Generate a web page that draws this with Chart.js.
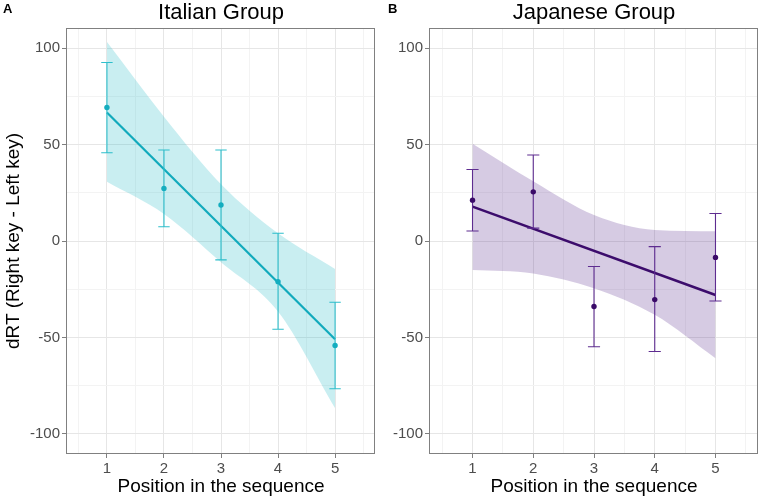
<!DOCTYPE html>
<html><head><meta charset="utf-8">
<script src="https://cdn.jsdelivr.net/npm/chart.js@4.4.1/dist/chart.umd.min.js"></script>
<style>
html,body{margin:0;padding:0;background:#fff;}
#wrap{position:relative;width:762px;height:498px;overflow:hidden;background:#fff;}
canvas{position:absolute;top:0;display:block;}
#c1{left:0;} #c2{left:380px;}
</style></head><body>
<div id="wrap"><canvas id="c1" width="380" height="498"></canvas><canvas id="c2" width="382" height="498"></canvas></div>
<script>
// ---- data ----
const positions = [1, 2, 3, 4, 5];
const xTickLabels = [1, 2, 3, 4, 5];
const xGrid = [0.5, 1, 1.5, 2, 2.5, 3, 3.5, 4, 4.5, 5, 5.5];
const yGrid = [-100, -75, -50, -25, 0, 25, 50, 75, 100];
const yTickLabels = [-100, -50, 0, 50, 100];
const fitX = [1, 5];

const italianMean = [69.3, 27.3, 18.7, -21.1, -54.2];
const italianLow = [45.8, 7.4, -9.8, -45.8, -76.7];
const italianHigh = [92.6, 47.2, 47.2, 4.0, -31.8];
const italianFit = [66.7, -51.0];
const italianBandUpper = [103.3, 64.5, 29.5, 4.0, -14.5];
const italianBandLower = [30.7, 14.0, -11.0, -36.6, -86.7];

const japaneseMean = [21.2, 25.5, -34.0, -30.4, -8.5];
const japaneseLow = [5.2, 6.7, -54.9, -57.3, -31.1];
const japaneseHigh = [37.1, 44.6, -13.2, -2.9, 14.3];
const japaneseFit = [17.8, -28.0];
const japaneseBandUpper = [50.5, 31.0, 13.5, 5.7, 5.0];
const japaneseBandLower = [-15.0, -16.8, -24.5, -38.3, -60.8];

const FONT = '"Liberation Sans", Arial, Helvetica, sans-serif';
const CAP = 0.1;

function pts(xs, ys) { return xs.map((x, i) => ({x: x, y: ys[i]})); }
function errorBarData(xs, lo, hi) {
  const d = [];
  xs.forEach((x, i) => {
    d.push({x: x, y: lo[i]}, {x: x, y: hi[i]}, {x: x, y: null});
    d.push({x: x - CAP, y: hi[i]}, {x: x + CAP, y: hi[i]}, {x: x, y: null});
    d.push({x: x - CAP, y: lo[i]}, {x: x + CAP, y: lo[i]}, {x: x, y: null});
  });
  return d;
}

const decor = {
  id: 'decor',
  afterDatasetsDraw(chart, args, o) {
    const {ctx, chartArea: a} = chart;
    ctx.save();
    ctx.strokeStyle = '#808080';
    ctx.lineWidth = 1;
    const l = Math.round(a.left) - 0.5, t = Math.round(a.top) - 0.5;
    const r = Math.round(a.right) - 0.5, b = Math.round(a.bottom) + 0.5;
    ctx.strokeRect(l, t, r - l, b - t);
    ctx.restore();
  },
  afterDraw(chart, args, o) {
    const {ctx, chartArea: a} = chart;
    ctx.save();
    ctx.fillStyle = '#000';
    ctx.font = '22px ' + FONT;
    ctx.textAlign = 'center';
    ctx.textBaseline = 'alphabetic';
    ctx.fillText(o.title, (a.left + a.right) / 2, 18.5);
    ctx.font = 'bold 13px ' + FONT;
    ctx.textAlign = 'left';
    ctx.fillText(o.letter, o.letterX, 13);
    ctx.restore();
  }
};

function makePanel(id, o) {
  const gridColor = c => (c.tick && Math.abs(c.tick.value) % o.majorStep === 0) ? '#E6E6E6' : '#F3F3F3';
  new Chart(document.getElementById(id), {
    type: 'line',
    data: {
      datasets: [
        {data: pts(positions, o.bandUpper), borderWidth: 0, pointRadius: 0, fill: '+1',
         backgroundColor: o.band, cubicInterpolationMode: 'monotone', order: 5},
        {data: pts(positions, o.bandLower), borderWidth: 0, pointRadius: 0, fill: false,
         cubicInterpolationMode: 'monotone', order: 5},
        {data: pts(fitX, o.fit), borderColor: o.line, borderWidth: o.lineWidth, pointRadius: 0, fill: false, order: 3},
        {data: errorBarData(positions, o.low, o.high), borderColor: o.err, borderWidth: 1.1, pointRadius: 0,
         fill: false, spanGaps: false, order: 2},
        {data: pts(positions, o.mean), showLine: false, pointRadius: 2.7, pointBorderWidth: 0,
         pointBackgroundColor: o.pt, order: 1}
      ]
    },
    options: {
      responsive: false, animation: false, devicePixelRatio: 1,
      layout: {padding: {left: 0, right: o.padRight, top: 29, bottom: 0}},
      plugins: {legend: {display: false}, tooltip: {enabled: false}, title: {display: false},
                decor: {title: o.title, letter: o.letter, letterX: o.letterX}},
      scales: {
        x: {
          type: 'linear', min: 0.3, max: 5.7,
          afterBuildTicks: s => { s.ticks = xGrid.map(v => ({value: v})); },
          afterFit: s => { s.height = 45; },
          border: {display: false},
          grid: {color: c => (c.tick && Number.isInteger(c.tick.value)) ? '#E6E6E6' : '#F3F3F3', lineWidth: 1,
                 drawTicks: true, tickLength: 5,
                 tickColor: c => (c.tick && Number.isInteger(c.tick.value)) ? '#7f7f7f' : 'rgba(0,0,0,0)'},
          ticks: {color: '#4D4D4D', font: {family: FONT, size: 15}, padding: 2, maxRotation: 0, autoSkip: false,
                  callback: v => xTickLabels.includes(v) ? String(v) : ''},
          title: {display: true, text: 'Position in the sequence', color: '#000',
                  font: {family: FONT, size: 19}, padding: {top: 0, bottom: 0}}
        },
        y: {
          type: 'linear', min: -110, max: 110,
          afterBuildTicks: s => { s.ticks = yGrid.map(v => ({value: v})); },
          afterFit: s => { s.width = o.yWidth; },
          border: {display: false},
          grid: {color: gridColor, lineWidth: 1, drawTicks: true, tickLength: 5,
                 tickColor: c => (c.tick && yTickLabels.includes(c.tick.value)) ? '#7f7f7f' : 'rgba(0,0,0,0)'},
          ticks: {color: '#4D4D4D', font: {family: FONT, size: 15}, padding: 2, autoSkip: false,
                  callback: v => yTickLabels.includes(v) ? String(v) : ''},
          title: {display: o.yTitle, text: 'dRT (Right key - Left key)', color: '#000',
                  font: {family: FONT, size: 19}, padding: {top: 2, bottom: 0}}
        }
      }
    },
    plugins: [decor]
  });
  o.majorStep; 
}

makePanel('c1', {
  title: 'Italian Group', letter: 'A', letterX: 3, yTitle: true, yWidth: 67, padRight: 5, majorStep: 50,
  mean: italianMean, low: italianLow, high: italianHigh, fit: italianFit,
  bandUpper: italianBandUpper, bandLower: italianBandLower,
  band: 'rgba(39,187,199,0.25)', line: '#12AABC', lineWidth: 2.2, err: '#2EBFCC', pt: '#14ADBF'
});
makePanel('c2', {
  title: 'Japanese Group', letter: 'B', letterX: 8, yTitle: false, yWidth: 50, padRight: 1, majorStep: 50,
  mean: japaneseMean, low: japaneseLow, high: japaneseHigh, fit: japaneseFit,
  bandUpper: japaneseBandUpper, bandLower: japaneseBandLower,
  band: 'rgba(91,47,143,0.25)', line: '#3C0C6C', lineWidth: 2.5, err: '#5E2C90', pt: '#3A0A68'
});
</script>
</body></html>
